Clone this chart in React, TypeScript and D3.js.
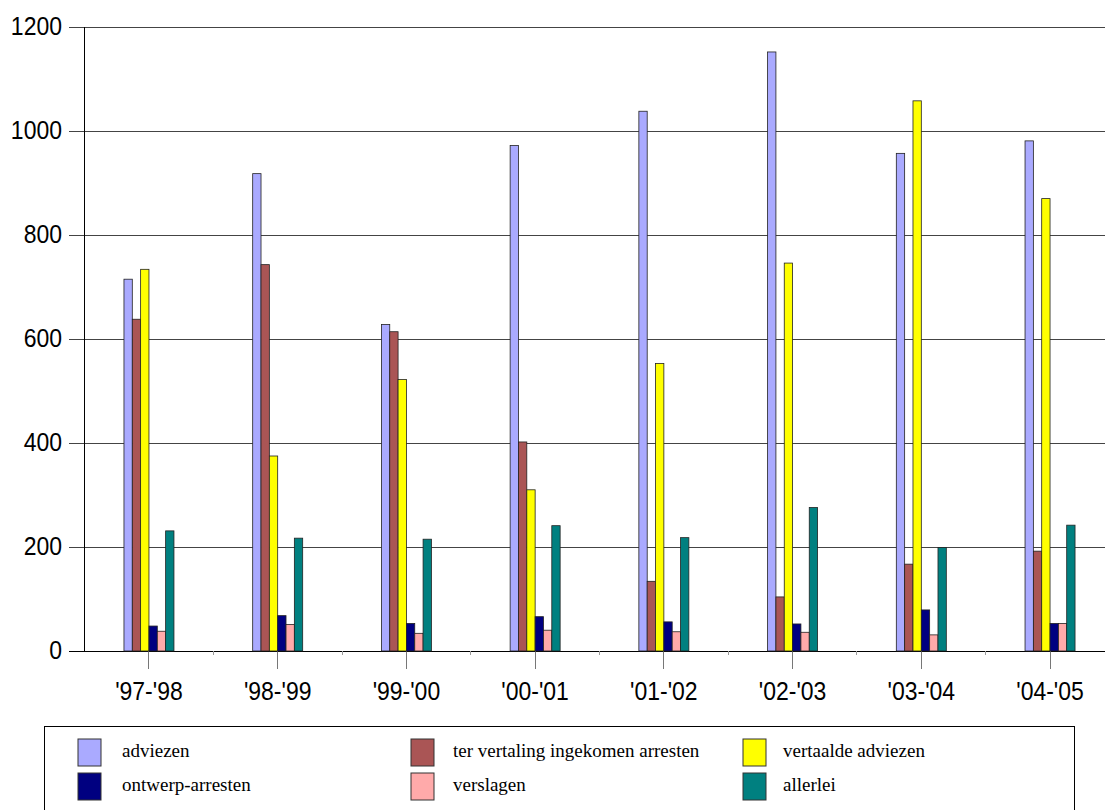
import React from "react";
import * as d3 from "d3";

const categories = ["'97-'98", "'98-'99", "'99-'00", "'00-'01", "'01-'02", "'02-'03", "'03-'04", "'04-'05"];
const seriesNames = ["adviezen", "ter vertaling ingekomen arresten", "vertaalde adviezen", "ontwerp-arresten", "verslagen", "allerlei"];
const seriesColors = ["#AAAAFF", "#AA5555", "#FFFF00", "#000080", "#FFAAAA", "#008080"];
const adviezen = [715, 918, 628, 972, 1038, 1152, 957, 981];
const terVertaling = [638, 743, 614, 402, 134, 104, 167, 192];
const vertaaldeAdviezen = [734, 375, 522, 310, 553, 746, 1058, 870];
const ontwerpArresten = [48, 68, 53, 66, 56, 52, 79, 53];
const verslagen = [38, 51, 34, 40, 37, 36, 31, 53];
const allerlei = [231, 217, 215, 241, 218, 276, 199, 242];
const yTicks = [0, 200, 400, 600, 800, 1000, 1200];

const seriesValues = [adviezen, terVertaling, vertaaldeAdviezen, ontwerpArresten, verslagen, allerlei];

export default function App() {
  const W = 1105, H = 810;
  const x0 = d3.scaleBand<string>().domain(categories).range([84.6, 1114.4]).padding(0);
  const y = d3.scaleLinear().domain([0, 1200]).range([651, 27]);
  const groupW = 50;
  const x1 = d3.scaleBand<number>().domain(d3.range(6)).range([-groupW / 2, groupW / 2]).padding(0);
  const sans = "'Liberation Sans', Arial, sans-serif";
  const serif = "'Liberation Serif', 'Times New Roman', serif";

  const legendCols = [78, 411, 743];
  const legendTextX = [122, 453, 783];
  const legendRows = [739, 773];

  return (
    <svg width={W} height={H} style={{ position: "absolute", left: 0, top: 0, background: "#fff" }}>
      {/* gridlines */}
      {yTicks.map((t) => (
        <g key={t}>
          <line x1={69} x2={1114} y1={y(t)} y2={y(t)} stroke={t === 0 ? "#000" : "#444"} strokeWidth={1} shapeRendering="crispEdges" />
          <text
            x={62}
            y={y(t)}
            textAnchor="end"
            fontFamily={sans}
            fontSize={23}
            transform={`translate(0,${y(t) + 8}) scale(1,1.15) translate(0,${-y(t)})`}
            fill="#000"
          >
            {t}
          </text>
        </g>
      ))}
      {/* y axis */}
      <line x1={84} x2={84} y1={27} y2={651} stroke="#000" strokeWidth={1} shapeRendering="crispEdges" />
      {/* x ticks & labels */}
      {categories.map((c) => {
        const cx = (x0(c) as number) + x0.bandwidth() / 2;
        return (
          <g key={c}>
            <line x1={cx} x2={cx} y1={651} y2={669} stroke="#777" strokeWidth={1} shapeRendering="crispEdges" />
            <text
              x={cx}
              y={0}
              textAnchor="middle"
              fontFamily={sans}
              fontSize={23}
              transform={`translate(0,700) scale(1,1.15)`}
              fill="#000"
            >
              {c}
            </text>
          </g>
        );
      })}
      {categories.map((c) => {
        const bx = (x0(c) as number) + x0.bandwidth() / 2;
        return (
          <line key={"b" + c} x1={bx + x0.bandwidth() / 2} x2={bx + x0.bandwidth() / 2} y1={651} y2={655} stroke="#999" shapeRendering="crispEdges" />
        );
      })}
      {/* bars */}
      {categories.map((c, ci) => {
        const cx = (x0(c) as number) + x0.bandwidth() / 2;
        return (
          <g key={"g" + c}>
            {seriesValues.map((vals, si) => (
              <rect
                key={si}
                x={cx + (x1(si) as number)}
                y={y(vals[ci])}
                width={x1.bandwidth()}
                height={y(0) - y(vals[ci])}
                fill={seriesColors[si]}
                stroke="#222"
                strokeWidth={0.8}
              />
            ))}
          </g>
        );
      })}
      {/* legend */}
      <rect x={44.5} y={726.5} width={1030} height={100} fill="#fff" stroke="#000" strokeWidth={1} />
      {seriesNames.map((name, i) => {
        const col = i % 3;
        const row = Math.floor(i / 3);
        return (
          <g key={name}>
            <rect
              x={legendCols[col]}
              y={legendRows[row]}
              width={23}
              height={27}
              fill={seriesColors[i]}
              stroke="#333"
              strokeWidth={1}
            />
            <text x={legendTextX[col]} y={legendRows[row] + 18} fontFamily={serif} fontSize={19} fill="#000">
              {name}
            </text>
          </g>
        );
      })}
    </svg>
  );
}
